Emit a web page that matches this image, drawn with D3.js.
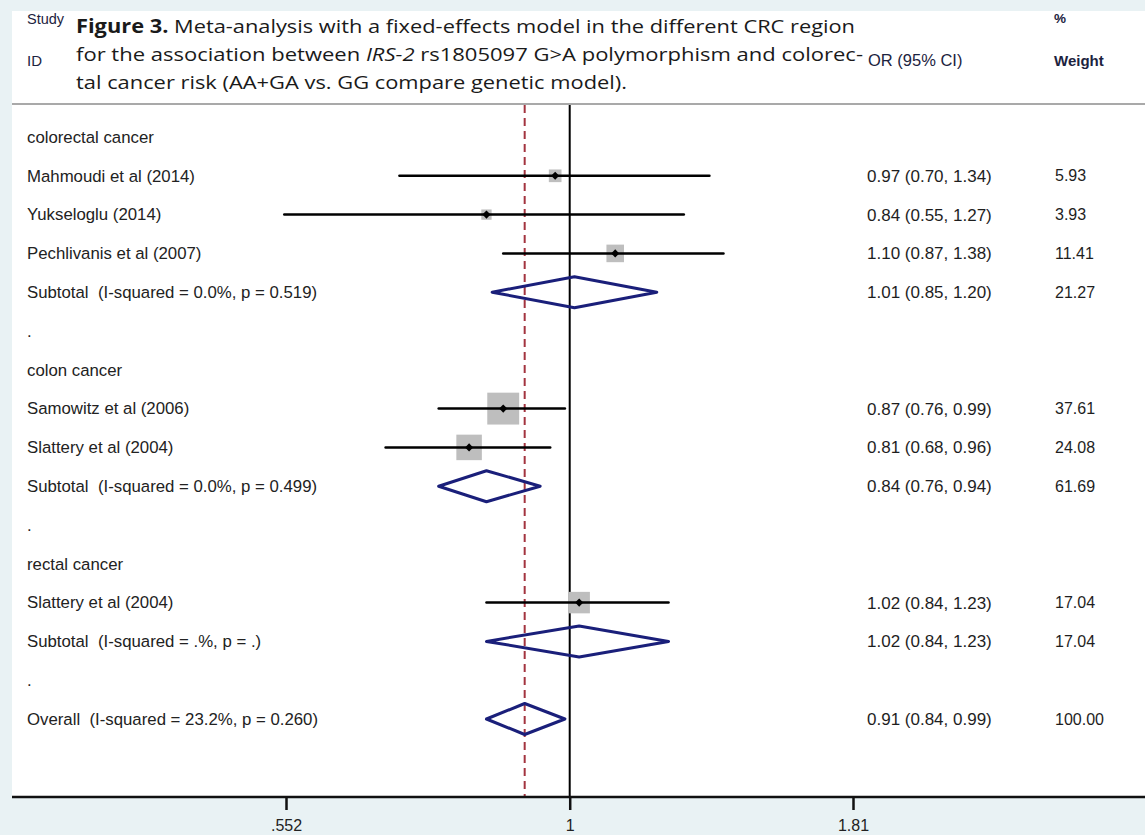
<!DOCTYPE html>
<html>
<head>
<meta charset="utf-8">
<script src="https://cdn.jsdelivr.net/npm/d3@7"></script>
<style>
  html, body { margin: 0; padding: 0; background: #e9f2f4; }
  svg { display: block; }
  text { white-space: pre; }
</style>
</head>
<body>
<div id="chart"></div>
<script>
// rows of the forest plot, top to bottom
const rowLabels = [
    "colorectal cancer",
    "Mahmoudi et al (2014)",
    "Yukseloglu (2014)",
    "Pechlivanis et al (2007)",
    "Subtotal  (I-squared = 0.0%, p = 0.519)",
    ".",
    "colon cancer",
    "Samowitz et al (2006)",
    "Slattery et al (2004)",
    "Subtotal  (I-squared = 0.0%, p = 0.499)",
    ".",
    "rectal cancer",
    "Slattery et al (2004)",
    "Subtotal  (I-squared = .%, p = .)",
    ".",
    "Overall  (I-squared = 23.2%, p = 0.260)"
];
const rowTypes = ["group", "study", "study", "study", "pooled", "blank",
                  "group", "study", "study", "pooled", "blank",
                  "group", "study", "pooled", "blank", "pooled"];
const orValues = [null, 0.97, 0.84, 1.10, 1.01, null, null, 0.87, 0.81, 0.84, null, null, 1.02, 1.02, null, 0.91];
const ciLower  = [null, 0.70, 0.55, 0.87, 0.85, null, null, 0.76, 0.68, 0.76, null, null, 0.84, 0.84, null, 0.84];
const ciUpper  = [null, 1.34, 1.27, 1.38, 1.20, null, null, 0.99, 0.96, 0.94, null, null, 1.23, 1.23, null, 0.99];
const weights  = [null, 5.93, 3.93, 11.41, 21.27, null, null, 37.61, 24.08, 61.69, null, null, 17.04, 17.04, null, 100.00];
const overallOR = 0.91;
const tickValues = [0.552, 1, 1.81];
const tickLabels = [".552", "1", "1.81"];

const W = 1145, H = 835;
const panelLeft = 12, panelTop = 11, axisY = 797;
const labelFont = "'Liberation Sans', Arial, sans-serif";

const svg = d3.select("#chart").append("svg")
    .attr("width", W)
    .attr("height", H);

// white panel
svg.append("rect")
    .attr("x", panelLeft).attr("y", panelTop)
    .attr("width", W - panelLeft).attr("height", axisY - panelTop)
    .attr("fill", "#ffffff");

// separator under the header
svg.append("line")
    .attr("x1", panelLeft).attr("x2", W)
    .attr("y1", 104).attr("y2", 104)
    .attr("stroke", "#a9a9a9").attr("stroke-width", 2);

// header texts
const header = svg.append("g")
    .style("font-family", labelFont)
    .attr("fill", "#1c2340");
header.append("text").attr("x", 27).attr("y", 24).style("font-size", "14.5px").text("Study");
header.append("text").attr("x", 27).attr("y", 66).style("font-size", "15px").text("ID");
header.append("text").attr("x", 868).attr("y", 66).style("font-size", "16.5px").text("OR (95% CI)");
header.append("text").attr("x", 1054).attr("y", 23).style("font-size", "13.5px").style("font-weight", "bold").text("%");
header.append("text").attr("x", 1054).attr("y", 66).style("font-size", "15px").style("font-weight", "bold").text("Weight");

// caption (stretched to the reference line widths)
const caption = svg.append("g")
    .style("font-family", "'Open Sans', sans-serif")
    .style("font-size", "19px")
    .attr("fill", "#1a1a1a");
const c1 = caption.append("text").attr("x", 76).attr("y", 33)
    .attr("textLength", 779).attr("lengthAdjust", "spacingAndGlyphs");
c1.append("tspan").style("font-weight", "bold").text("Figure 3.");
c1.append("tspan").text(" Meta-analysis with a fixed-effects model in the different CRC region");
const c2 = caption.append("text").attr("x", 76).attr("y", 61)
    .attr("textLength", 787).attr("lengthAdjust", "spacingAndGlyphs");
c2.append("tspan").text("for the association between ");
c2.append("tspan").style("font-style", "italic").text("IRS-2");
c2.append("tspan").text(" rs1805097 G>A polymorphism and colorec-");
caption.append("text").attr("x", 76).attr("y", 89)
    .attr("textLength", 551).attr("lengthAdjust", "spacingAndGlyphs")
    .text("tal cancer risk (AA+GA vs. GG compare genetic model).");

// scales
const x = d3.scaleLog().domain([0.552, 1.81]).range([286, 853]);
const y = d3.scaleLinear().domain([0, rowLabels.length - 1]).range([137, 719]);
const side = d3.scaleSqrt().domain([0, 100]).range([0, 52]);

const rows = rowLabels.map((label, i) => ({
    label: label,
    type: rowTypes[i],
    or: orValues[i],
    lo: ciLower[i],
    hi: ciUpper[i],
    weight: weights[i],
    i: i
}));

// reference lines
svg.append("line")
    .attr("x1", x(1)).attr("x2", x(1))
    .attr("y1", 105).attr("y2", axisY)
    .attr("stroke", "#000").attr("stroke-width", 2);

svg.append("line")
    .attr("x1", x(overallOR)).attr("x2", x(overallOR))
    .attr("y1", 105).attr("y2", axisY)
    .attr("stroke", "#a3343f").attr("stroke-width", 2)
    .attr("stroke-dasharray", "8,5");

// row labels
svg.append("g")
    .selectAll("text")
    .data(rows)
    .enter()
    .append("text")
    .attr("x", 27)
    .attr("y", d => y(d.i))
    .attr("dy", "0.35em")
    .style("font-family", labelFont)
    .style("font-size", "16.8px")
    .attr("fill", "#222")
    .text(d => d.label);

const withEstimate = rows.filter(d => d.or !== null);

// OR and weight columns
svg.append("g")
    .selectAll("text")
    .data(withEstimate)
    .enter()
    .append("text")
    .attr("x", 867)
    .attr("y", d => y(d.i))
    .attr("dy", "0.35em")
    .style("font-family", labelFont)
    .style("font-size", "17px")
    .attr("fill", "#1e1e1e")
    .text(d => `${d.or.toFixed(2)} (${d.lo.toFixed(2)}, ${d.hi.toFixed(2)})`);

svg.append("g")
    .selectAll("text")
    .data(withEstimate)
    .enter()
    .append("text")
    .attr("x", 1055)
    .attr("y", d => y(d.i))
    .attr("dy", "0.35em")
    .style("font-family", labelFont)
    .style("font-size", "16px")
    .attr("fill", "#1e1e1e")
    .text(d => d.weight.toFixed(2));

// study boxes, CI lines and point markers
const studies = withEstimate.filter(d => d.type === "study");

svg.append("g")
    .selectAll("rect")
    .data(studies)
    .enter()
    .append("rect")
    .attr("x", d => x(d.or) - side(d.weight) / 2)
    .attr("y", d => y(d.i) - side(d.weight) / 2)
    .attr("width", d => side(d.weight))
    .attr("height", d => side(d.weight))
    .attr("fill", "#bebebe");

svg.append("g")
    .selectAll("line")
    .data(studies)
    .enter()
    .append("line")
    .attr("x1", d => x(d.lo))
    .attr("x2", d => x(d.hi))
    .attr("y1", d => y(d.i))
    .attr("y2", d => y(d.i))
    .attr("stroke", "#000")
    .attr("stroke-width", 2.5)
    .attr("stroke-linecap", "round");

svg.append("g")
    .selectAll("path")
    .data(studies)
    .enter()
    .append("path")
    .attr("transform", d => `translate(${x(d.or)},${y(d.i)})`)
    .attr("d", d3.symbol(d3.symbolDiamond2, 42))
    .attr("fill", "#000");

// pooled diamonds
const pooled = withEstimate.filter(d => d.type === "pooled");
const halfH = 15.5;

svg.append("g")
    .selectAll("path")
    .data(pooled)
    .enter()
    .append("path")
    .attr("d", d => {
        const cy = y(d.i);
        return `M${x(d.lo)},${cy}L${x(d.or)},${cy - halfH}L${x(d.hi)},${cy}L${x(d.or)},${cy + halfH}Z`;
    })
    .attr("fill", "none")
    .attr("stroke", "#1a1f7a")
    .attr("stroke-width", 3)
    .attr("stroke-linejoin", "round");

// x axis
svg.append("line")
    .attr("x1", panelLeft).attr("x2", W)
    .attr("y1", axisY).attr("y2", axisY)
    .attr("stroke", "#111").attr("stroke-width", 2.5);

const xAxis = svg.append("g")
    .attr("transform", `translate(0,${axisY})`)
    .call(d3.axisBottom(x)
        .tickValues(tickValues)
        .tickSize(13)
        .tickPadding(10)
        .tickFormat((d, i) => tickLabels[i]));

xAxis.select(".domain").remove();
xAxis.selectAll(".tick line").attr("stroke", "#111").attr("stroke-width", 2.5);
xAxis.selectAll(".tick text")
    .style("font-family", labelFont)
    .style("font-size", "16px")
    .attr("fill", "#222");
</script>
</body>
</html>
